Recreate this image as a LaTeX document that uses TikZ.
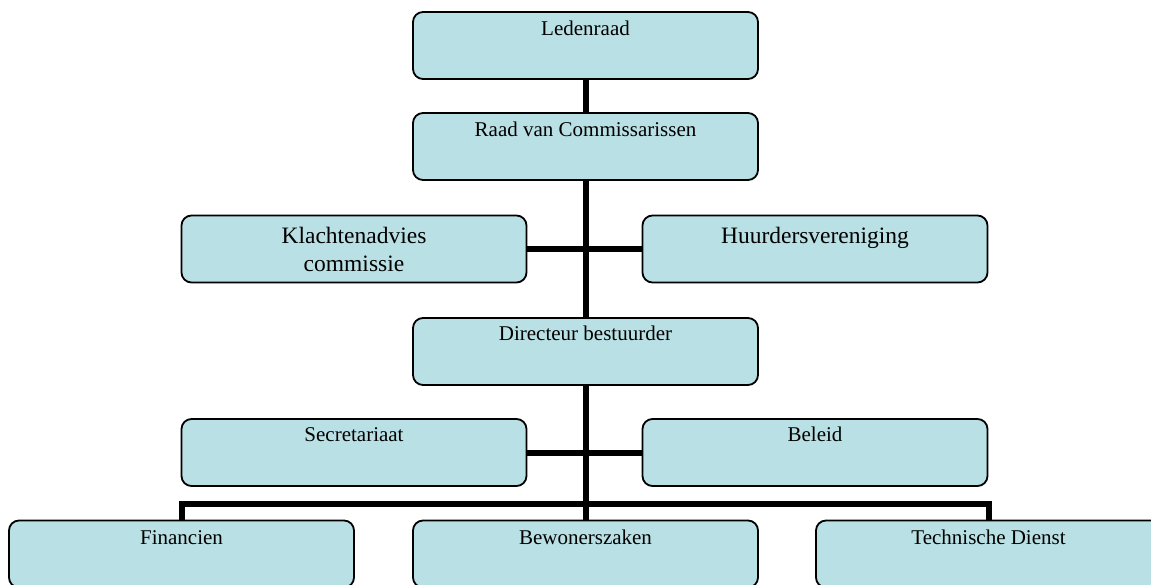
\documentclass[tikz,border=0pt]{standalone}
\usepackage{fontspec}
\setmainfont{Liberation Serif}
\definecolor{boxfill}{RGB}{185,224,228}
\begin{document}
\begin{tikzpicture}[x=1pt,y=-1pt,
  orgbox/.style={draw=black, line width=1.8pt, fill=boxfill, rounded corners=10pt,
    minimum width=345pt, minimum height=67pt, inner sep=0pt},
  boxtext/.style={anchor=base, font=\fontsize{21}{25}\selectfont, inner sep=0pt},
  bigtext/.style={anchor=north, font=\fontsize{23.5}{28}\selectfont, inner sep=0pt, align=center},
  link/.style={line width=6pt, line join=miter}]
\useasboundingbox (0,0) rectangle (1151,584);
\clip (0,0) rectangle (1151,584);

% boxes
\node[orgbox] (leden) at (585.5,45.5) {};
\node[orgbox] (raad)  at (585.5,146.5) {};
\node[orgbox] (klacht) at (354,249) {};
\node[orgbox] (huur)  at (815,249) {};
\node[orgbox] (dir)   at (585.5,351.5) {};
\node[orgbox] (secr)  at (354,452.5) {};
\node[orgbox] (beleid) at (815,452.5) {};
\node[orgbox] (fin)   at (181.5,554) {};
\node[orgbox] (bew)   at (585.5,554) {};
\node[orgbox] (tech)  at (988.5,554) {};

% labels (canvas y points up, so shift down with negative values)
\node[boxtext] (tleden) at ([yshift=-24pt]leden.north) {Ledenraad};
\node[boxtext] (traad)  at ([yshift=-24pt]raad.north) {Raad van Commissarissen};
\node[bigtext] (tklacht) at ([yshift=-12pt]klacht.north) {Klachtenadvies\\commissie};
\node[boxtext, font=\fontsize{23.5}{28}\selectfont] (thuur) at ([yshift=-29pt]huur.north) {Huurdersvereniging};
\node[boxtext] (tdir)   at ([yshift=-23pt]dir.north) {Directeur bestuurder};
\node[boxtext] (tsecr)  at ([yshift=-23pt]secr.north) {Secretariaat};
\node[boxtext] (tbeleid) at ([yshift=-23pt]beleid.north) {Beleid};
\node[boxtext] (tfin)   at ([yshift=-25pt]fin.north) {Financien};
\node[boxtext] (tbew)   at ([yshift=-25pt]bew.north) {Bewonerszaken};
\node[boxtext] (ttech)  at ([yshift=-25pt]tech.north) {Technische Dienst};

% connectors
\coordinate (bus) at (585.5,504);
\draw[link] (leden.south) -- (raad.north);
\draw[link] (raad.south) -- (dir.north);
\draw[link] (klacht.east) -- (huur.west);
\draw[link] (secr.east) -- (beleid.west);
\draw[link] (dir.south) -- (bus);
\draw[link] (bus) -- (bew.north);
\draw[link] (fin.north) -- (fin.north |- bus) -- (tech.north |- bus) -- (tech.north);
\end{tikzpicture}
\end{document}
